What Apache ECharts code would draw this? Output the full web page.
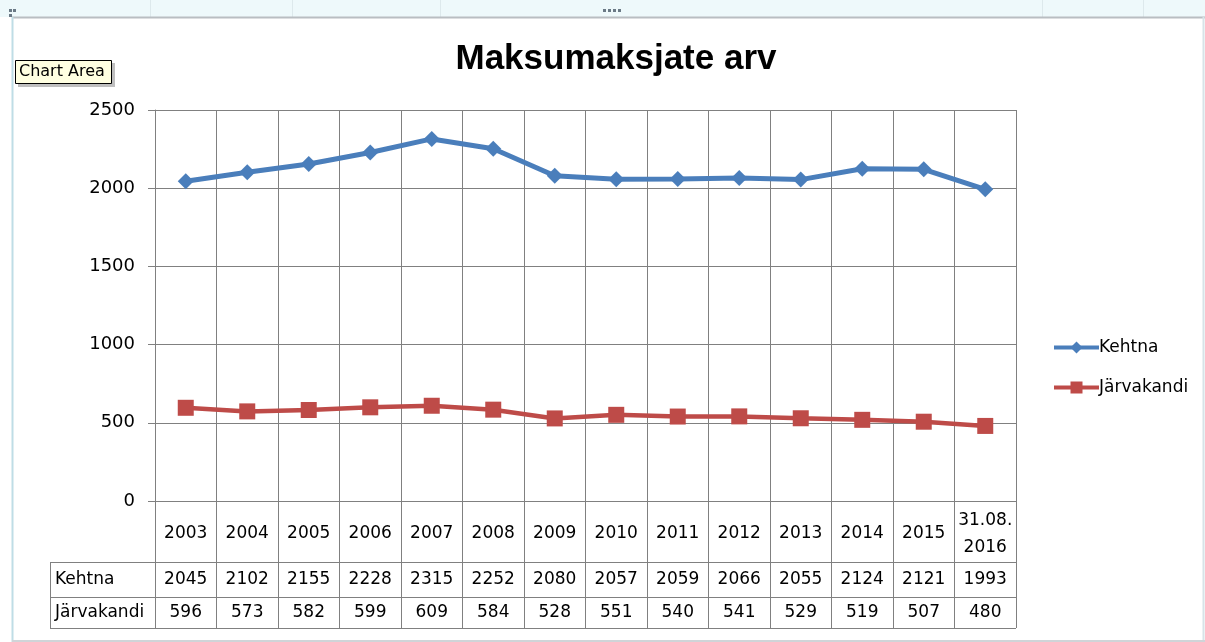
<!DOCTYPE html>
<html>
<head>
<meta charset="utf-8">
<script src="https://cdn.jsdelivr.net/npm/echarts@6/dist/echarts.min.js"></script>
<style>
html,body{margin:0;padding:0;background:#fff;}
#chart{width:1205px;height:642px;}
</style>
</head>
<body>
<div id="chart"></div>
<script>
var categories = ['2003','2004','2005','2006','2007','2008','2009','2010','2011','2012','2013','2014','2015','31.08.\n2016'];
var kehtna = [2045,2102,2155,2228,2315,2252,2080,2057,2059,2066,2055,2124,2121,1993];
var jarvakandi = [596,573,582,599,609,584,528,551,540,541,529,519,507,480];
var seriesNames = ['Kehtna','Järvakandi'];
var yTicks = {min:0, max:2500, interval:500};
var titleText = 'Maksumaksjate arv';

var GRID = {left:155, right:189, top:110, bottom:141};
var gridColor = '#808080';
var font = 'DejaVu Sans';

var chart = echarts.init(document.getElementById('chart'));
var option = {
  animation:false,
  backgroundColor:'#ffffff',
  title:{text:titleText, left:611, top:37, textAlign:'center',
    textStyle:{fontFamily:'Liberation Sans', fontWeight:'bold', fontSize:35, color:'#000'}},
  legend:{
    orient:'vertical', left:1047, top:334, itemWidth:45, itemHeight:15, itemGap:23,
    lineStyle:{width:4},
    textStyle:{fontFamily:font, fontSize:17, color:'#000', padding:[0,0,0,-5]},
    data:seriesNames
  },
  grid:{left:GRID.left, right:GRID.right, top:GRID.top, bottom:GRID.bottom, containLabel:false},
  xAxis:{
    type:'category', data:categories, boundaryGap:true,
    axisLine:{show:true, lineStyle:{color:gridColor, width:1}},
    axisTick:{show:true, length:127, lineStyle:{color:gridColor, width:1}},
    splitLine:{show:true, lineStyle:{color:gridColor, width:1}},
    axisLabel:{margin:33, verticalAlign:'middle', interval:0, fontFamily:font, fontSize:17, color:'#000', lineHeight:27}
  },
  yAxis:{
    type:'value', min:yTicks.min, max:yTicks.max, interval:yTicks.interval,
    axisLine:{show:true, lineStyle:{color:gridColor, width:1}},
    axisTick:{show:true, length:7, lineStyle:{color:gridColor}},
    splitLine:{show:true, lineStyle:{color:gridColor, width:1}},
    axisLabel:{margin:20, fontFamily:font, fontSize:18, color:'#000', formatter:function(v){return String(v);}}
  },
  series:[
    {name:seriesNames[0], type:'line', data:kehtna, symbol:'diamond', symbolSize:16,
     lineStyle:{color:'#4A7EBB', width:5}, itemStyle:{color:'#4A7EBB'}, z:3},
    {name:seriesNames[1], type:'line', data:jarvakandi, symbol:'rect', symbolSize:16,
     lineStyle:{color:'#BE4B48', width:4.5}, itemStyle:{color:'#BE4B48'}, z:2}
  ]
};
chart.setOption(option);

function buildTable(){
  var g = [];
  var rowYs = [562, 597, 628];
  var right = 1205 - GRID.right;
  rowYs.forEach(function(y){
    g.push({type:'line', shape:{x1:50, y1:y+0.5, x2:right, y2:y+0.5}, style:{stroke:gridColor, lineWidth:1}, silent:true});
  });
  g.push({type:'line', shape:{x1:50.5, y1:562, x2:50.5, y2:628}, style:{stroke:gridColor, lineWidth:1}, silent:true});
  var rows = [kehtna, jarvakandi];
  var centers = [579.5, 612.5];
  rows.forEach(function(arr, r){
    g.push({type:'text', x:55, y:centers[r], style:{text:seriesNames[r], fontFamily:font, fontSize:17, fill:'#000', verticalAlign:'middle', align:'left'}, silent:true});
    arr.forEach(function(v, i){
      var px = chart.convertToPixel({xAxisIndex:0}, i);
      g.push({type:'text', x:px, y:centers[r], style:{text:String(v), fontFamily:font, fontSize:17, fill:'#000', verticalAlign:'middle', align:'center'}, silent:true});
    });
  });
  // Excel window decorations
  g.push({type:'rect', shape:{x:0, y:0, width:1205, height:17}, style:{fill:'#EEF9FB'}, silent:true, z:-1});
  [150, 292, 440, 1042, 1143].forEach(function(x){
    g.push({type:'line', shape:{x1:x+0.5, y1:0, x2:x+0.5, y2:17}, style:{stroke:'#DDE9EC', lineWidth:1}, silent:true});
  });
  g.push({type:'line', shape:{x1:12, y1:17.5, x2:1205, y2:17.5}, style:{stroke:'#B9BEC2', lineWidth:2}, silent:true});
  g.push({type:'line', shape:{x1:12.5, y1:17, x2:12.5, y2:642}, style:{stroke:'#BFDDE6', lineWidth:2}, silent:true});
  g.push({type:'line', shape:{x1:1203.5, y1:17, x2:1203.5, y2:642}, style:{stroke:'#D7E3E8', lineWidth:2}, silent:true});
  g.push({type:'line', shape:{x1:12, y1:641, x2:1205, y2:641}, style:{stroke:'#D0D4D8', lineWidth:2}, silent:true});
  [603, 608, 613, 618].forEach(function(x){
    g.push({type:'rect', shape:{x:x, y:9, width:3, height:3}, style:{fill:'#6B7A86'}, silent:true});
  });
  [[9,9],[13,9],[9,14]].forEach(function(p){
    g.push({type:'rect', shape:{x:p[0], y:p[1], width:3, height:3}, style:{fill:'#6B7A86'}, silent:true});
  });
  // "Chart Area" tooltip
  g.push({type:'rect', shape:{x:18, y:63, width:97, height:24}, style:{fill:'rgba(0,0,0,0.25)'}, silent:true, z:9});
  g.push({type:'rect', shape:{x:15.5, y:60.5, width:96, height:23}, style:{fill:'#FFFFE1', stroke:'#000', lineWidth:1}, silent:true, z:10});
  g.push({type:'text', x:19, y:72, style:{text:'Chart Area', fontFamily:font, fontSize:16, fill:'#000', verticalAlign:'middle'}, silent:true, z:11});
  chart.setOption({graphic:g});
}
buildTable();
</script>
</body>
</html>
